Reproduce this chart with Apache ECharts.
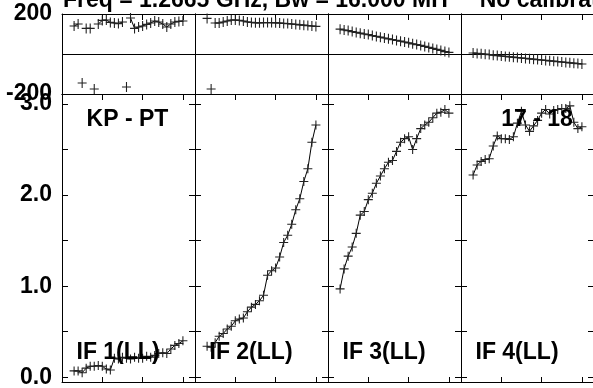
<!DOCTYPE html>
<html>
<head>
<meta charset="utf-8">
<script src="https://cdn.jsdelivr.net/npm/echarts@6/dist/echarts.min.js"></script>
<style>
html,body{margin:0;padding:0;background:#fff;}
#chart{width:593px;height:388px;}
</style>
</head>
<body>
<div id="chart"></div>
<script>
// ---- data ----
const titleText = 'Freq = 1.2665 GHz, Bw = 16.000 MH     No calibration';
const baselineLabels = ['KP - PT', '', '', '17 - 18'];
const ifLabels = ['IF 1(LL)', 'IF 2(LL)', 'IF 3(LL)', 'IF 4(LL)'];
const channels = [3,4,5,6,7,8,9,10,11,12,13,14,15,16,17,18,19,20,21,22,23,24,25,26,27,28,29,30];

const ampIF1 = [0.07,0.07,0.05,0.10,0.12,0.12,0.13,0.12,0.09,0.08,0.21,0.20,0.22,0.21,0.20,0.22,0.21,0.21,0.23,0.22,0.24,0.26,0.27,0.26,0.31,0.35,0.37,0.40];
const ampIF2 = [0.34,0.33,0.38,0.45,0.48,0.53,0.56,0.62,0.64,0.65,0.72,0.77,0.80,0.84,0.90,1.12,1.17,1.20,1.32,1.48,1.56,1.68,1.84,1.96,2.15,2.29,2.58,2.77];
const ampIF3 = [0.97,1.19,1.33,1.43,1.58,1.78,1.82,1.95,2.02,2.13,2.21,2.29,2.36,2.38,2.48,2.58,2.62,2.64,2.50,2.62,2.73,2.77,2.80,2.85,2.90,2.91,2.94,2.90];
const ampIF4 = [2.22,2.33,2.37,2.39,2.40,2.54,2.65,2.62,2.62,2.61,2.64,2.79,2.92,2.77,2.70,2.76,2.82,2.90,2.94,2.89,2.93,2.94,2.95,2.95,2.98,2.80,2.73,2.75];

const phaseIF1 = [140,150,-145,128,128,-175,150,168,170,158,155,152,160,-165,180,128,135,140,148,155,165,160,150,135,150,160,163,165];
const phaseIF2 = [178,-175,155,155,160,165,170,170,168,165,160,158,156,156,157,157,157,156,155,153,152,150,148,146,144,142,140,138];
const phaseIF3 = [124,120,117,112,108,104,100,97,92,88,84,80,76,72,68,64,60,56,51,47,43,38,33,28,23,18,12,8];
const phaseIF4 = [5,3,1,-1,-3,-6,-8,-10,-12,-14,-16,-18,-20,-22,-24,-26,-28,-30,-32,-34,-36,-38,-40,-42,-44,-46,-48,-50];

const phaseTicks = [-200, 0, 200];
const ampTickLabels = ['0.0', '1.0', '2.0', '3.0'];

// ---- build ----
const amps = [ampIF1, ampIF2, ampIF3, ampIF4];
const phases = [phaseIF1, phaseIF2, phaseIF3, phaseIF4];
const FONT = 'Liberation Sans, Arial, Helvetica, sans-serif';
const crossPath = 'path://M0 4.4H10V5.6H0Z M4.4 0H5.6V10H4.4Z';

const colLeft = [62, 195, 328, 461];
const colW = 133;
const phTop = 14, phH = 80;
const amTop = 94, amH = 288;

const grid = [], xAxis = [], yAxis = [], series = [];
const lineColor = '#000';

function addAxes(gi, kind, col) {
  const isAmp = kind === 'amp';
  xAxis.push({
    gridIndex: gi, type: 'value', min: 0, max: 33, minInterval: 10, maxInterval: 10, position: 'bottom',
    axisLine: {show: true, onZero: false, lineStyle: {color: lineColor, width: 1}},
    axisTick: {show: isAmp, inside: true, length: 5, lineStyle: {color: lineColor}},
    axisLabel: {show: false}, splitLine: {show: false}
  });
  xAxis.push({
    gridIndex: gi, type: 'value', min: 0, max: 33, minInterval: 10, maxInterval: 10, position: 'top',
    axisLine: {show: true, onZero: false, lineStyle: {color: lineColor, width: 1}},
    axisTick: {show: true, inside: true, length: 6, lineStyle: {color: lineColor}},
    axisLabel: {show: false}, splitLine: {show: false}
  });
  const yBase = isAmp ? {
    min: -0.052, max: 3.11, minInterval: 0.5, maxInterval: 0.5
  } : {
    min: -200, max: 200, interval: 200
  };
  const fmt = isAmp
    ? function (v) { const r = Math.round(v); return Math.abs(v - r) < 1e-6 && r >= 0 && r <= 3 ? ampTickLabels[r] : ''; }
    : function (v) { return (phaseTicks.indexOf(v) >= 0 && v !== 0) ? String(v) : ''; };
  yAxis.push(Object.assign({
    gridIndex: gi, type: 'value', position: 'left',
    axisLine: {show: true, onZero: false, lineStyle: {color: lineColor, width: 1}},
    axisTick: {show: true, inside: true, length: 6, lineStyle: {color: lineColor}},
    axisLabel: {show: col === 0, formatter: fmt, fontSize: 23, fontWeight: 'bold', color: '#000', fontFamily: FONT, margin: 10, showMinLabel: true, showMaxLabel: true},
    splitLine: {show: !isAmp, lineStyle: {color: lineColor, width: 1}}
  }, yBase));
  yAxis.push(Object.assign({
    gridIndex: gi, type: 'value', position: 'right',
    axisLine: {show: true, onZero: false, lineStyle: {color: lineColor, width: 1}},
    axisTick: {show: true, inside: true, length: 6, lineStyle: {color: lineColor}},
    axisLabel: {show: false}, splitLine: {show: false}
  }, yBase));
}

for (let c = 0; c < 4; c++) {
  const gP = grid.length;
  grid.push({left: colLeft[c], top: phTop, width: colW, height: phH, containLabel: false, outerBoundsMode: 'none'});
  addAxes(gP, 'phase', c);
  const xiP = gP * 2, yiP = gP * 2;
  const ph = phases[c];
  const lineData = [];
  for (let i = 0; i < channels.length; i++) {
    if (i > 0 && Math.abs(ph[i] - ph[i - 1]) > 180) lineData.push([channels[i] - 0.5, '-']);
    lineData.push([channels[i], ph[i]]);
  }
  series.push({
    type: 'line', xAxisIndex: xiP, yAxisIndex: yiP, data: lineData, clip: false,
    symbol: crossPath, symbolSize: [9, 10], showSymbol: true, showAllSymbol: true, connectNulls: false,
    lineStyle: {color: lineColor, width: 1}, itemStyle: {color: '#222'}, animation: false, silent: true
  });

  const gA = grid.length;
  grid.push({left: colLeft[c], top: amTop, width: colW, height: amH, containLabel: false, outerBoundsMode: 'none'});
  addAxes(gA, 'amp', c);
  const xiA = gA * 2, yiA = gA * 2;
  series.push({
    type: 'line', xAxisIndex: xiA, yAxisIndex: yiA, clip: false,
    data: channels.map((ch, i) => [ch, amps[c][i]]),
    symbol: crossPath, symbolSize: [9, 9], showSymbol: true, showAllSymbol: true,
    lineStyle: {color: lineColor, width: 1}, itemStyle: {color: '#222'}, animation: false, silent: true
  });
}

const graphic = [];
graphic.push({type: 'text', left: 63, top: -11, z: 100, style: {text: titleText, font: 'bold 23px ' + FONT, fill: '#000'}});
for (let c = 0; c < 4; c++) {
  graphic.push({type: 'text', z: 100, x: colLeft[c] + 14.5, y: 353, style: {text: ifLabels[c], font: 'bold 23px ' + FONT, fill: '#000', textAlign: 'left', textVerticalAlign: 'middle'}});
}
graphic.push({type: 'text', z: 100, x: 127.5, y: 120, style: {text: baselineLabels[0], font: 'bold 23px ' + FONT, fill: '#000', textAlign: 'center', textVerticalAlign: 'middle'}});
graphic.push({type: 'text', z: 100, x: 537, y: 120, style: {text: baselineLabels[3], font: 'bold 23px ' + FONT, fill: '#000', textAlign: 'center', textVerticalAlign: 'middle'}});

const chart = echarts.init(document.getElementById('chart'), null, {renderer: 'canvas'});
chart.setOption({
  animation: false,
  backgroundColor: '#fff',
  grid: grid, xAxis: xAxis, yAxis: yAxis, series: series, graphic: graphic
});
</script>
</body>
</html>
